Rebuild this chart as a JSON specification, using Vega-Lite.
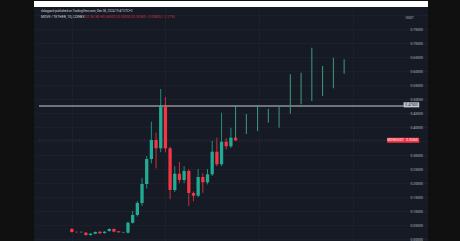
{
  "$schema": "https://vega.github.io/schema/vega-lite/v6.json",
  "background": "#101010",
  "padding": {"left": 33, "right": 33, "top": 0, "bottom": 0},
  "spacing": 0,
  "config": {
    "view": {"stroke": null},
    "axis": {"labelOverlap": false, "labelFlush": false, "labelBound": false, "title": null, "ticks": false, "tickSize": 0, "domain": false, "grid": true, "gridColor": "#1c202c"},
    "axisX": {"labels": false, "tickCount": 5},
    "axisY": {"tickCount": 17, "labelPadding": 0, "labelColor": "#b2b5be", "labelFontSize": 3.4, "labelFont": "Roboto", "labelAlign": "left", "labelBaseline": "middle", "format": ".5f", "labelExpr": "(datum.value > 0.76 || abs(datum.value - 0.35) < 0.001) ? '' : datum.label"}
  },
  "datasets": {
    "candles": [
      {"i": 0, "o": 0.0357, "h": 0.039, "l": 0.023, "c": 0.025},
      {"i": 1, "o": 0.0255, "h": 0.027, "l": 0.022, "c": 0.0245},
      {"i": 2, "o": 0.0245, "h": 0.027, "l": 0.022, "c": 0.0255},
      {"i": 3, "o": 0.0225, "h": 0.025, "l": 0.012, "c": 0.0143},
      {"i": 4, "o": 0.0143, "h": 0.021, "l": 0.012, "c": 0.0189},
      {"i": 5, "o": 0.0189, "h": 0.027, "l": 0.017, "c": 0.025},
      {"i": 6, "o": 0.026, "h": 0.028, "l": 0.018, "c": 0.0204},
      {"i": 7, "o": 0.0214, "h": 0.028, "l": 0.019, "c": 0.026},
      {"i": 8, "o": 0.0286, "h": 0.038, "l": 0.026, "c": 0.0357},
      {"i": 9, "o": 0.0357, "h": 0.038, "l": 0.024, "c": 0.026},
      {"i": 10, "o": 0.0275, "h": 0.029, "l": 0.022, "c": 0.024},
      {"i": 11, "o": 0.024, "h": 0.026, "l": 0.021, "c": 0.025},
      {"i": 12, "o": 0.0225, "h": 0.062, "l": 0.02, "c": 0.0582},
      {"i": 13, "o": 0.0582, "h": 0.1, "l": 0.055, "c": 0.0857},
      {"i": 14, "o": 0.0857, "h": 0.136, "l": 0.08, "c": 0.1286},
      {"i": 15, "o": 0.1286, "h": 0.218, "l": 0.118, "c": 0.1964},
      {"i": 16, "o": 0.1964, "h": 0.296, "l": 0.18, "c": 0.2857},
      {"i": 17, "o": 0.2857, "h": 0.419, "l": 0.27, "c": 0.3536},
      {"i": 18, "o": 0.3536, "h": 0.38, "l": 0.2525, "c": 0.3239},
      {"i": 19, "o": 0.3239, "h": 0.536, "l": 0.31, "c": 0.475},
      {"i": 20, "o": 0.475, "h": 0.507, "l": 0.31, "c": 0.3239},
      {"i": 21, "o": 0.3239, "h": 0.33, "l": 0.142, "c": 0.175},
      {"i": 22, "o": 0.175, "h": 0.26, "l": 0.168, "c": 0.2332},
      {"i": 23, "o": 0.2332, "h": 0.275, "l": 0.2, "c": 0.2107},
      {"i": 24, "o": 0.2107, "h": 0.26, "l": 0.2, "c": 0.2429},
      {"i": 25, "o": 0.2429, "h": 0.25, "l": 0.118, "c": 0.1643},
      {"i": 26, "o": 0.1643, "h": 0.17, "l": 0.135, "c": 0.1546},
      {"i": 27, "o": 0.1546, "h": 0.25, "l": 0.15, "c": 0.2214},
      {"i": 28, "o": 0.2214, "h": 0.235, "l": 0.165, "c": 0.2025},
      {"i": 29, "o": 0.2025, "h": 0.25, "l": 0.195, "c": 0.2311},
      {"i": 30, "o": 0.2311, "h": 0.35, "l": 0.225, "c": 0.3118},
      {"i": 31, "o": 0.3118, "h": 0.362, "l": 0.26, "c": 0.2668},
      {"i": 32, "o": 0.2668, "h": 0.451, "l": 0.26, "c": 0.3475},
      {"i": 33, "o": 0.3475, "h": 0.36, "l": 0.32, "c": 0.331},
      {"i": 34, "o": 0.331, "h": 0.3975, "l": 0.325, "c": 0.3618},
      {"i": 35, "o": 0.3618, "h": 0.365, "l": 0.35, "c": 0.3525}
    ],
    "proj": [
      {"p": 35, "lo": 0.3618, "hi": 0.4786},
      {"p": 37.3, "lo": 0.375, "hi": 0.4464},
      {"p": 39.7, "lo": 0.3857, "hi": 0.4786},
      {"p": 42, "lo": 0.4154, "hi": 0.4654},
      {"p": 44.3, "lo": 0.3975, "hi": 0.475},
      {"p": 46.7, "lo": 0.4475, "hi": 0.5882},
      {"p": 49, "lo": 0.4811, "hi": 0.5939},
      {"p": 51.3, "lo": 0.4929, "hi": 0.6832},
      {"p": 53.6, "lo": 0.5107, "hi": 0.6179},
      {"p": 55.9, "lo": 0.5382, "hi": 0.6475},
      {"p": 58.2, "lo": 0.5904, "hi": 0.6418}
    ]
  },
  "vconcat": [
    {
      "width": 394,
      "height": 6,
      "view": {"fill": "#ffffff", "stroke": null},
      "data": {"values": [{}]},
      "mark": {"type": "rule", "opacity": 0},
      "encoding": {}
    },
    {
      "width": 394,
      "height": 235,
      "view": {"fill": "#161a25", "stroke": null},
      "layer": [
        {
          "data": {"name": "candles"},
          "mark": {"type": "rule", "strokeWidth": 0.8},
          "encoding": {
            "x": {
              "field": "i", "type": "quantitative",
              "scale": {"domain": [-7.02, 75.06], "nice": false, "zero": false}
            },
            "y": {
              "field": "l", "type": "quantitative",
              "scale": {"domain": [-0.0107, 0.8286], "nice": false, "zero": false},
              "axis": {"orient": "right", "offset": -18}
            },
            "y2": {"field": "h"},
            "color": {"condition": {"test": "datum.c >= datum.o", "value": "#22ab94"}, "value": "#f23645"}
          }
        },
        {
          "data": {"values": [{}]},
          "mark": {"type": "rule", "color": "#3e404c", "strokeWidth": 0.8, "strokeDash": [1, 1.5]},
          "encoding": {
            "x": {"datum": -7.02, "type": "quantitative"},
            "x2": {"datum": 67.4},
            "y": {"datum": 0.3536, "type": "quantitative", "axis": {"orient": "right", "offset": -18}}
          }
        },
        {
          "data": {"values": [{}]},
          "mark": {"type": "rule", "color": "#c9cbd1", "strokeWidth": 1},
          "encoding": {
            "x": {"datum": -7.02, "type": "quantitative"},
            "x2": {"datum": 70.9},
            "y": {"datum": 0.475, "type": "quantitative", "axis": {"orient": "right", "offset": -18}}
          }
        },
        {
          "data": {"name": "candles"},
          "mark": {"type": "bar", "size": 3.3},
          "encoding": {
            "x": {"field": "i", "type": "quantitative"},
            "y": {"field": "o", "type": "quantitative", "axis": {"orient": "right", "offset": -18}},
            "y2": {"field": "c"},
            "color": {"condition": {"test": "datum.c >= datum.o", "value": "#22ab94"}, "value": "#f23645"}
          }
        },
        {
          "data": {"name": "proj"},
          "mark": {"type": "rule", "color": "#3e9b7d", "strokeWidth": 1},
          "encoding": {
            "x": {"field": "p", "type": "quantitative"},
            "y": {"field": "lo", "type": "quantitative", "axis": {"orient": "right", "offset": -18}},
            "y2": {"field": "hi"}
          }
        },
        {
          "data": {"values": [{}]},
          "mark": {"type": "rect", "color": "#c5c8d0"},
          "encoding": {
            "x": {"datum": 70.9, "type": "quantitative"},
            "x2": {"datum": 74.25},
            "y": {"datum": 0.4882, "type": "quantitative", "axis": {"orient": "right", "offset": -18}},
            "y2": {"datum": 0.4702}
          }
        },
        {
          "data": {"values": [{}]},
          "mark": {"type": "rect", "color": "#f23645"},
          "encoding": {
            "x": {"datum": 67.4, "type": "quantitative"},
            "x2": {"datum": 74.25},
            "y": {"datum": 0.3618, "type": "quantitative", "axis": {"orient": "right", "offset": -18}},
            "y2": {"datum": 0.344}
          }
        },
        {
          "data": {"values": [{"t": "0.47500"}]},
          "mark": {"type": "text", "color": "#131722", "fontSize": 3.4, "font": "Roboto", "align": "center", "baseline": "middle"},
          "encoding": {
            "x": {"datum": 72.6, "type": "quantitative"},
            "y": {"datum": 0.4792, "type": "quantitative", "axis": {"orient": "right", "offset": -18}},
            "text": {"field": "t"}
          }
        },
        {
          "data": {"values": [{"t": "MOVEUSDT"}]},
          "mark": {"type": "text", "color": "#ffffff", "fontSize": 3.2, "font": "Roboto", "align": "center", "baseline": "middle"},
          "encoding": {
            "x": {"datum": 69.19, "type": "quantitative"},
            "y": {"datum": 0.3529, "type": "quantitative", "axis": {"orient": "right", "offset": -18}},
            "text": {"field": "t"}
          }
        },
        {
          "data": {"values": [{"t": "0.35360"}]},
          "mark": {"type": "text", "color": "#ffffff", "fontSize": 3.2, "font": "Roboto", "align": "center", "baseline": "middle"},
          "encoding": {
            "x": {"datum": 72.73, "type": "quantitative"},
            "y": {"datum": 0.3529, "type": "quantitative", "axis": {"orient": "right", "offset": -18}},
            "text": {"field": "t"}
          }
        },
        {
          "data": {"values": [{"t": "USDT"}]},
          "mark": {"type": "text", "color": "#b2b5be", "fontSize": 3.4, "font": "Roboto", "align": "left", "baseline": "middle"},
          "encoding": {
            "x": {"datum": 71.3, "type": "quantitative"},
            "y": {"datum": 0.7893, "type": "quantitative", "axis": {"orient": "right", "offset": -18}},
            "text": {"field": "t"}
          }
        },
        {
          "data": {"values": [{"t": "dolagpaid published on TradingView.com, Dec 06, 2024 19:47 UTC+3"}]},
          "mark": {"type": "text", "color": "#d1d4dc", "fontSize": 3, "font": "Roboto", "align": "left", "baseline": "middle"},
          "encoding": {
            "x": {"datum": -6.6, "type": "quantitative"},
            "y": {"datum": 0.8143, "type": "quantitative", "axis": {"orient": "right", "offset": -18}},
            "text": {"field": "t"}
          }
        },
        {
          "data": {"values": [{"t": "MOVE / TETHER, 1D, COINEX"}]},
          "mark": {"type": "text", "color": "#d1d4dc", "fontSize": 3.4, "font": "Roboto", "align": "left", "baseline": "middle"},
          "encoding": {
            "x": {"datum": -6.6, "type": "quantitative"},
            "y": {"datum": 0.7929, "type": "quantitative", "axis": {"orient": "right", "offset": -18}},
            "text": {"field": "t"}
          }
        },
        {
          "data": {"values": [{"t": "O0.36180 H0.36500 L0.35000 C0.35360 −0.00820 (−2.27%)"}]},
          "mark": {"type": "text", "color": "#c2344a", "fontSize": 3.4, "font": "Roboto", "align": "left", "baseline": "middle"},
          "encoding": {
            "x": {"datum": 2.77, "type": "quantitative"},
            "y": {"datum": 0.7929, "type": "quantitative", "axis": {"orient": "right", "offset": -18}},
            "text": {"field": "t"}
          }
        }
      ]
    }
  ]
}
